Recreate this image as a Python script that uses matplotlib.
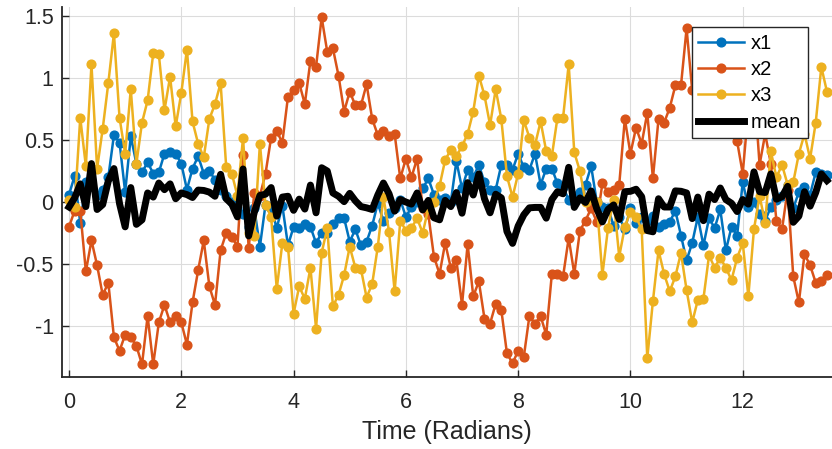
import numpy as np
import matplotlib
matplotlib.use("Agg")
import matplotlib.pyplot as plt

# Time grid (radians), 0.1 spacing
t = np.round(np.arange(0, 136) * 0.1, 1)

x1 = [0.06, 0.21, -0.17, 0.16, 0.13, 0.06, 0.10, 0.20, 0.54, 0.48,
      0.08, 0.53, 0.31, 0.24, 0.32, 0.23, 0.24, 0.39, 0.40, 0.39,
      0.31, 0.10, 0.27, 0.37, 0.23, 0.25, 0.18, 0.10, 0.05, 0.00,
      -0.05, -0.10, -0.20, -0.05, -0.36, -0.02, -0.05, -0.21, -0.03, -0.35,
      -0.20, -0.21, -0.18, -0.20, -0.33, -0.25, -0.25, -0.18, -0.13, -0.13,
      -0.32, -0.22, -0.35, -0.32, -0.19, -0.01, -0.15, -0.09, -0.05, 0.02,
      -0.12, -0.04, 0.00, 0.11, 0.19, 0.06, 0.02, 0.03, 0.00, 0.33,
      0.11, 0.26, 0.20, 0.30, 0.16, 0.10, 0.10, 0.30, 0.30, 0.26,
      0.39, 0.28, 0.26, 0.39, 0.14, 0.27, 0.27, 0.15, 0.12, 0.02,
      0.05, 0.08, 0.14, 0.29, 0.00, -0.04, -0.05, -0.19, -0.12, -0.22,
      -0.05, -0.17, -0.12, -0.15, -0.11, -0.20, -0.18, -0.16, -0.07, -0.27,
      -0.47, -0.33, -0.12, -0.35, -0.13, -0.21, -0.06, -0.39, -0.20, -0.27,
      0.16, -0.04, 0.00, -0.10, -0.15, -0.04, 0.02, 0.05, 0.14, -0.05,
      0.08, 0.12, 0.06, 0.24, 0.23, 0.22]

x2 = [-0.20, -0.07, -0.07, -0.56, -0.31, -0.51, -0.75, -0.65, -1.09, -1.20,
      -1.07, -1.09, -1.16, -1.31, -0.92, -1.31, -0.97, -0.83, -0.97, -0.92,
      -0.97, -1.15, -0.81, -0.55, -0.31, -0.68, -0.83, -0.39, -0.25, -0.28,
      -0.36, 0.38, -0.37, 0.07, 0.05, 0.23, 0.52, 0.57, 0.48, 0.85,
      0.90, 0.96, 0.79, 1.14, 1.09, 1.49, 1.21, 1.24, 1.02, 0.73,
      0.89, 0.78, 0.78, 0.95, 0.67, 0.54, 0.57, 0.53, 0.55, 0.19,
      0.35, 0.20, 0.35, -0.05, -0.10, -0.44, -0.58, -0.33, -0.53, -0.47,
      -0.83, -0.34, -0.76, -0.64, -0.94, -0.98, -0.82, -0.87, -1.22, -1.30,
      -1.20, -1.25, -0.92, -0.98, -0.92, -1.07, -0.58, -0.58, -0.60, -0.29,
      -0.58, -0.23, -0.15, -0.05, -0.16, 0.15, 0.08, 0.10, 0.14, 0.67,
      0.39, 0.60, 0.47, 0.72, 0.19, 0.67, 0.64, 0.76, 0.94, 0.94,
      1.40, 0.90, 1.03, 0.68, 0.75, 0.80, 0.85, 0.98, 0.80, 0.49,
      0.23, 0.75, 0.95, 0.30, 0.55, 0.31, -0.15, -0.22, 0.10, -0.60,
      -0.81, -0.42, -0.51, -0.65, -0.64, -0.59]

x3 = [0.02, -0.04, 0.68, 0.29, 1.11, 0.27, 0.59, 0.96, 1.36, 0.68,
      0.39, 0.91, 0.31, 0.64, 0.82, 1.20, 1.19, 0.74, 1.01, 0.61,
      0.88, 1.23, 0.65, 0.47, 0.36, 0.67, 0.79, 0.96, 0.28, 0.23,
      0.05, 0.52, -0.25, -0.27, 0.47, -0.02, -0.12, -0.70, -0.33, -0.36,
      -0.90, -0.68, -0.78, -0.53, -1.02, -0.41, -0.21, -0.84, -0.75, -0.59,
      -0.36, -0.53, -0.54, -0.77, -0.66, -0.36, 0.04, -0.24, -0.72, -0.15,
      -0.23, -0.21, -0.13, -0.25, -0.05, 0.00, 0.13, 0.34, 0.42, 0.37,
      0.45, 0.55, 0.73, 1.02, 0.86, 0.62, 0.91, 0.67, 0.21, 0.04,
      0.23, 0.66, 0.52, 0.46, 0.65, 0.41, 0.37, 0.68, 0.68, 1.11,
      0.40, 0.25, 0.00, 0.03, 0.00, -0.59, -0.21, 0.02, -0.44, -0.20,
      -0.08, -0.12, -0.22, -1.26, -0.80, -0.39, -0.58, -0.72, -0.60, -0.41,
      -0.71, -0.97, -0.79, -0.78, -0.43, -0.53, -0.45, -0.53, -0.63, -0.45,
      -0.33, -0.76, -0.22, 0.05, -0.17, 0.41, 0.20, 0.30, 0.14, 0.16,
      0.39, 0.55, 0.35, 0.64, 1.09, 0.89]

series_names = ["x1", "x2", "x3"]
colors = ["#0072BD", "#D95319", "#EDB120"]
mean_vals = np.mean(np.array([x1, x2, x3]), axis=0)

x_ticks = [0, 2, 4, 6, 8, 10, 12]
y_ticks = [-1, -0.5, 0, 0.5, 1, 1.5]
y_tick_labels = ["-1", "-0.5", "0", "0.5", "1", "1.5"]

plt.rcParams['font.family'] = ['Liberation Sans', 'DejaVu Sans']

W, H = 832, 449
fig = plt.figure(figsize=(W / 100, H / 100), dpi=100)
ax = fig.add_axes([62 / W, (H - 377) / H, (832 - 62) / W, (377 - 7) / H])

for vals, name, c in zip([x1, x2, x3], series_names, colors):
    ax.plot(t, vals, '-o', color=c, lw=1.8, ms=6.3, label=name)
ax.plot(t, mean_vals, '-', color='black', lw=5.0, label='mean')

ax.set_xlim(-0.125, 13.59)
ax.set_ylim(-1.411, 1.573)
ax.set_xticks(x_ticks)
ax.set_xticklabels([str(v) for v in x_ticks])
ax.set_yticks(y_ticks)
ax.set_yticklabels(y_tick_labels)
ax.grid(True, color='#dcdcdc', lw=0.8)
ax.set_axisbelow(True)
for s in ['top', 'right']:
    ax.spines[s].set_visible(False)
for s in ['left', 'bottom']:
    ax.spines[s].set_color('#262626')
    ax.spines[s].set_linewidth(1.3)
ax.tick_params(direction='in', length=5, width=1, colors='#262626',
               labelsize=15.5)
ax.tick_params(axis='x', pad=11)
ax.tick_params(axis='y', pad=6)
ax.set_xlabel('Time (Radians)', fontsize=18, color='#262626', labelpad=5)

leg = ax.legend(loc='upper right', bbox_to_anchor=((808 - 62) / 770, (377 - 27) / 370),
                borderaxespad=0, fontsize=14.5, frameon=True, fancybox=False,
                edgecolor='#262626', framealpha=1, handlelength=2.25,
                handletextpad=0.35, labelspacing=0.36, borderpad=0.34)
leg.get_frame().set_linewidth(1.0)

fig.savefig('out.png', dpi=100)
